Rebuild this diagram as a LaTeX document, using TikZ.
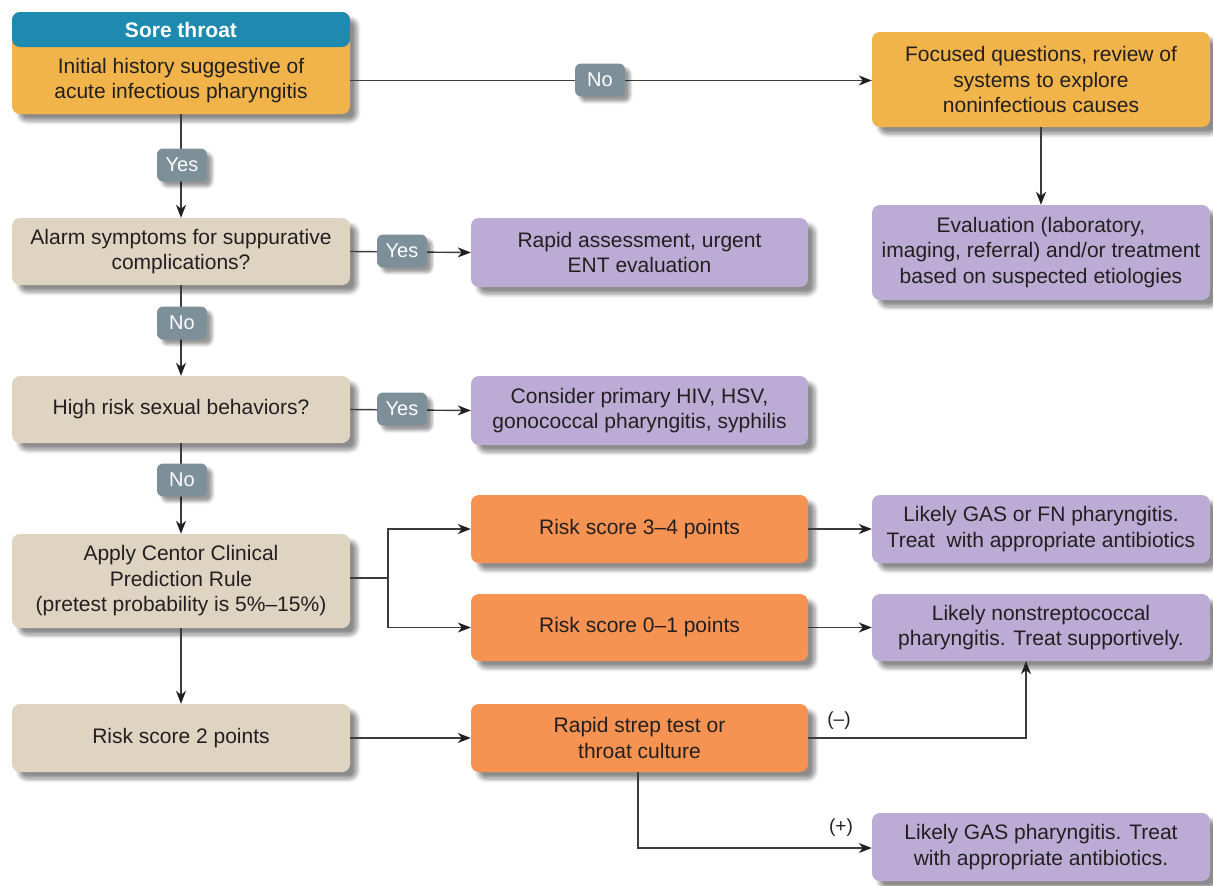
\documentclass[tikz,border=0pt]{standalone}
\usepackage{fontspec}
\setmainfont{Liberation Sans}
\usetikzlibrary{arrows.meta,shadows.blur}
\definecolor{ink}{RGB}{35,31,32}
\definecolor{headblue}{RGB}{30,138,176}
\definecolor{sand}{RGB}{241,180,74}
\definecolor{beige}{RGB}{222,212,193}
\definecolor{lilac}{RGB}{188,171,212}
\definecolor{tangerine}{RGB}{246,147,82}
\definecolor{tagc}{RGB}{125,143,153}
\definecolor{linec}{RGB}{60,60,60}
\tikzset{
  shade box/.style={blur shadow={shadow xshift=7pt, shadow yshift=-7pt,
      shadow blur radius=4pt, shadow blur steps=6, shadow opacity=45}},
  box/.style={rounded corners=8pt, align=center, inner sep=0pt, text=ink,
      font=\fontsize{21}{25.5}\selectfont, shade box},
  wide/.style={box, minimum width=338pt},
  decide/.style={wide, fill=beige},
  action/.style={wide, fill=lilac},
  score/.style={wide, fill=tangerine},
  tag/.style={fill=tagc, rounded corners=6pt, text=white, inner sep=0pt,
      font=\fontsize{20}{24}\selectfont, minimum width=50pt, minimum height=33pt,
      blur shadow={shadow xshift=5pt, shadow yshift=-5pt, shadow blur radius=3pt,
      shadow blur steps=5, shadow opacity=40}},
  sign/.style={text=ink, font=\fontsize{19}{22}\selectfont, inner sep=0pt},
  link/.style={draw=linec, line width=1.4pt},
  arr/.style={link, -{Stealth[length=13pt, width=10pt, inset=4pt, color=ink]}},
}
\begin{document}
\begin{tikzpicture}[x=1pt, y=-1pt]
\useasboundingbox (0,0) rectangle (1213,886);

% entry box: header strip over a light-orange body
\node[wide, fill=sand, minimum height=102pt] (topbox) at (181,63) {};
\node[rounded corners=8pt, fill=headblue, minimum width=338pt, minimum height=35pt,
      inner sep=0pt, text=white, font=\bfseries\fontsize{21}{25}\selectfont]
      (head) at (181,29.5) {Sore throat};
\node[align=center, inner sep=0pt, text=ink, font=\fontsize{21}{25.5}\selectfont,
      minimum width=338pt, minimum height=67pt] (body) at (181,80.5)
      {Initial history suggestive of\\acute infectious pharyngitis};

% right column, noninfectious branch
\node[wide, fill=sand, minimum height=95pt] (focus) at (1041,79.5)
      {Focused questions, review of\\systems to explore\\noninfectious causes};
\node[action, minimum height=95pt] (evalb) at (1041,252.5)
      {Evaluation (laboratory,\\imaging, referral) and/or treatment\\based on suspected etiologies};

% main decision column
\node[decide, minimum height=67pt] (alarm) at (181,251.5)
      {Alarm symptoms for suppurative\\complications?};
\node[decide, minimum height=67pt] (sexrisk) at (181,409.5)
      {High risk sexual behaviors?};
\node[decide, minimum height=94pt] (centor) at (181,581)
      {Apply Centor Clinical\\Prediction Rule\\(pretest probability is 5\%--15\%)};
\node[decide, minimum height=68pt] (two) at (181,738)
      {Risk score 2 points};

% middle column
\node[action, minimum width=337pt, minimum height=69pt] (ent) at (639.5,252.5)
      {Rapid assessment, urgent\\ENT evaluation};
\node[action, minimum width=337pt, minimum height=69pt] (hiv) at (639.5,410.5)
      {Consider primary HIV, HSV,\\gonococcal pharyngitis, syphilis};
\node[score, minimum width=337pt, minimum height=68pt] (high) at (639.5,529)
      {Risk score 3--4 points};
\node[score, minimum width=337pt, minimum height=67pt] (low) at (639.5,627.5)
      {Risk score 0--1 points};
\node[score, minimum width=337pt, minimum height=68pt] (strep) at (639.5,738)
      {Rapid strep test or\\throat culture};

% right column, outcomes
\node[action, minimum height=68pt] (gasfn) at (1041,529)
      {Likely GAS or FN pharyngitis.\\Treat\ \ with appropriate antibiotics};
\node[action, minimum height=67pt] (nonstrep) at (1041,627.5)
      {Likely nonstreptococcal\\pharyngitis. Treat supportively.};
\node[action, minimum height=68pt] (gas) at (1041,847)
      {Likely GAS pharyngitis. Treat\\with appropriate antibiotics.};

% connectors
\draw[arr] (body.east) -- (focus.west |- body.east);
\draw[arr] (focus.south) -- (evalb.north);
\draw[arr] (body.south) -- (alarm.north);
\draw[arr] (alarm.south) -- (sexrisk.north);
\draw[arr] (sexrisk.south) -- (centor.north);
\draw[arr] (centor.south) -- (two.north);
\draw[arr] (alarm.east) -- (ent.west);
\draw[arr] (sexrisk.east) -- (hiv.west);
\coordinate (fork) at (388,578);
\draw[link] (centor.east |- fork) -- (fork);
\draw[arr] (fork) |- (high.west);
\draw[arr] (fork) |- (low.west);
\draw[arr] (high.east) -- (gasfn.west);
\draw[arr] (low.east) -- (nonstrep.west);
\draw[arr] (two.east) -- (strep.west);
\coordinate (negup) at (1026,738);
\draw[arr] (strep.east) -- (negup) -- (negup |- nonstrep.south);
\coordinate (posdown) at (638,848);
\draw[arr] (strep.south -| posdown) -- (posdown) -- (gas.west |- posdown);

% branch tags
\node[tag] (t1) at (600,80) {No};
\node[tag] (t2) at (182,165) {Yes};
\node[tag] (t3) at (402,251) {Yes};
\node[tag] (t4) at (182,323) {No};
\node[tag] (t5) at (402,409) {Yes};
\node[tag] (t6) at (182,480) {No};
\node[sign] (neg) at (839,721) {(--)};
\node[sign] (pos) at (841,828) {(+)};
\end{tikzpicture}
\end{document}
